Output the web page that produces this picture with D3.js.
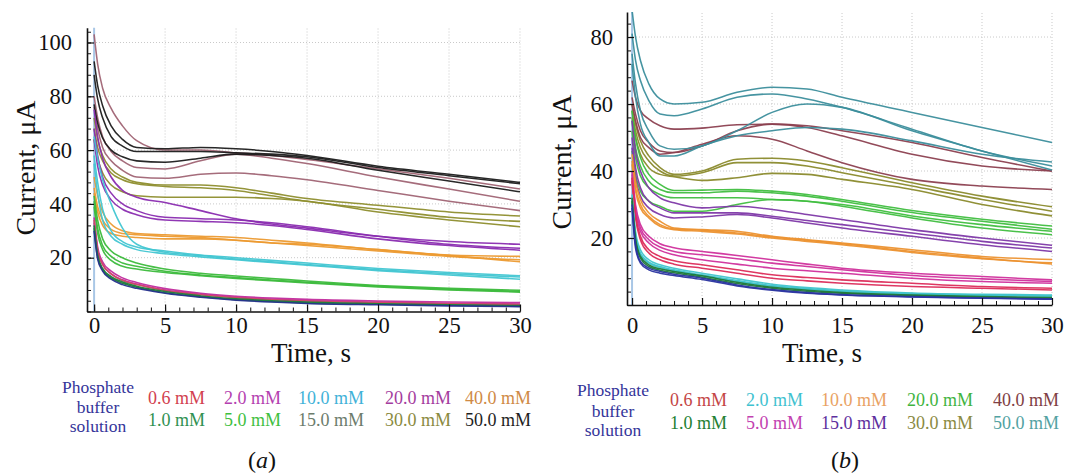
<!DOCTYPE html>
<html>
<head>
<meta charset="utf-8">
<script src="https://cdn.jsdelivr.net/npm/d3@7"></script>
<style>
  html, body { margin: 0; padding: 0; background: #fff; }
  svg { display: block; }
  svg text { font-family: "Liberation Serif", "Times New Roman", serif; }
</style>
</head>
<body>
<svg id="chart" width="1070" height="474"></svg>
<script>
// ---------- shared sample times (s) ----------
const times = [0, 0.25, 0.6, 1.2, 2, 3, 5, 7.5, 10, 12.5, 15, 20, 25, 30];

// ---------- panel (a) curves, µA ----------
const aMauve = [
  [103, 92, 83, 75.5, 69, 63.5, 60, 60, 59, 58, 56.5, 53, 49.5, 45.5],
  [80, 72, 65, 59.5, 56, 53.5, 53, 56, 58.5, 57, 55, 50, 45.5, 41],
  [76, 68, 61, 56, 52.5, 50, 49.5, 51, 51.5, 50.5, 49, 45, 41, 37.5]
];
const aBlack = [
  [93, 84, 76.5, 69, 64, 61, 60.5, 61, 60.5, 59.5, 58, 54, 51, 48],
  [88, 79, 72, 65, 61.5, 59.5, 59.5, 59.5, 59, 58.5, 57.5, 53.5, 50.5, 47.5],
  [77, 70, 64.5, 60, 57.5, 56, 55.5, 57, 58.5, 58, 57, 52.5, 48.5, 44.5]
];
const aOlive = [
  [72, 64, 58, 53, 50, 48, 47, 47, 46, 44, 42, 39.5, 37, 35.5],
  [68, 61, 56, 51.5, 49, 47.5, 46.5, 46, 45, 43, 41, 38, 35, 33.5],
  [64, 57, 51.5, 47, 44.5, 43, 42.5, 42.5, 42.5, 42, 41, 37, 34, 31.5]
];
const aPurple = [
  [75, 65, 57, 50, 45, 42.5, 40.5, 37.5, 34.5, 32.5, 31, 28, 26, 25],
  [68, 58, 50, 44, 40, 37.5, 35, 34.5, 34, 33, 31.5, 28, 25, 23.5],
  [64, 54, 47, 41.5, 38, 36, 34, 33.5, 33, 32, 30.5, 27, 24.5, 22.8]
];
const aOrange = [
  [50, 43, 37, 32.5, 30, 29, 28.5, 28, 27.5, 26.5, 25.5, 23, 21, 20.5],
  [46, 39, 34, 30.5, 29, 28.5, 28, 27.5, 26.5, 25.5, 24.5, 22.5, 20.5, 19.2],
  [44, 37, 32, 29, 28, 27.5, 27, 27, 26.5, 25.5, 25, 23, 20.8, 18.5]
];
const aCyan = [
  [65, 57, 49, 40, 31, 25, 22, 20.8, 19.5, 18.5, 17.5, 15.5, 14, 12.8],
  [58, 48, 38, 30, 26, 24, 22.5, 21, 20, 19, 18, 16, 14.5, 13.3],
  [55, 44, 34, 28, 25, 23, 21.5, 20.3, 19.2, 18.2, 17.2, 15.2, 13.6, 12]
];
const aGreen = [
  [43, 34, 27, 22.5, 20, 18, 15.8, 14.2, 13.2, 12.3, 11.3, 9.7, 8.6, 7.9],
  [41, 31, 24.5, 20.5, 18, 16.8, 15, 13.6, 12.6, 11.7, 10.9, 9.4, 8.3, 7.5],
  [39, 29, 23, 19, 16.8, 15.8, 14.5, 13.3, 12.3, 11.4, 10.6, 9.1, 8, 7.2]
];
const aMagenta = [
  [35, 24, 18.5, 15, 12.5, 10.8, 8.5, 6.8, 5.7, 5, 4.5, 3.9, 3.5, 3.3],
  [33, 22.5, 17.5, 14, 11.8, 10.2, 8, 6.4, 5.3, 4.6, 4.1, 3.5, 3.1, 2.8]
];
const aRed = [
  [34, 23, 17.5, 14, 11.5, 10, 7.8, 6.2, 5.1, 4.4, 3.9, 3.3, 2.9, 2.6]
];
const aDarkGreen = [
  [32, 21, 16, 13, 11, 9.4, 7.4, 5.8, 4.7, 4, 3.5, 2.9, 2.5, 2.2],
  [31, 20, 15.5, 12.5, 10.5, 9, 7, 5.5, 4.4, 3.7, 3.2, 2.7, 2.3, 2]
];
const aBlue = [
  [30, 19.5, 15, 12, 10, 8.6, 6.8, 5.3, 4.2, 3.5, 3, 2.5, 2.1, 1.8]
];

// ---------- panel (b) curves, µA ----------
const bTeal = [
  [88, 80, 73, 66, 61.5, 60, 60.5, 63.5, 65, 64.5, 62, 57.5, 53, 48.5],
  [81, 73, 67, 61, 57, 56.5, 58.5, 62, 63, 61.5, 59, 52.5, 46, 41.5],
  [75, 66, 58, 52, 47.5, 46.5, 47.5, 52, 57.5, 60, 59, 52, 46, 40.3],
  [72, 62, 54, 48.5, 44.5, 44.5, 47.5, 50.5, 52, 53, 52.5, 49, 45, 42.7]
];
const bBrown = [
  [67, 62, 58, 55.5, 53.5, 52.5, 52.8, 53.8, 54, 53.5, 52, 48.5, 44, 40],
  [62, 57, 52, 48.5, 46, 45.5, 47.5, 52, 54, 53, 50.5, 45, 41.5, 40],
  [60, 55, 50, 47, 45, 45.5, 48, 50.5, 49.5, 46, 42.5, 37.5, 35.5, 34.5]
];
const bOlive = [
  [60, 54, 49, 44.5, 41, 39, 40, 43.5, 43.8, 43, 41, 36.5, 32.5, 29.3],
  [58, 52, 47, 43, 40, 38.5, 39.5, 42.5, 42.5, 41.5, 39.5, 35.5, 31.5, 28],
  [56, 50, 45, 41, 39, 38.3, 37.2, 38, 39.3, 39, 37.5, 34.5, 30, 26.6]
];
const bGreen = [
  [58, 50, 44, 39, 36, 34.2, 34.3, 34.5, 34, 33, 31.5, 28.2, 25.6, 23.6],
  [55, 47, 41.5, 37, 34.5, 33.5, 33.5, 34, 33.5, 32.5, 31, 27.6, 25, 22.6],
  [52, 44, 38.5, 35, 33, 32, 32, 32, 31.5, 31, 30, 26.6, 24, 22],
  [46, 39, 34, 31, 29.5, 28, 28, 30, 31.5, 31, 29.5, 26, 23, 21]
];
const bPurple = [
  [55, 46, 40, 35, 32, 30.5, 29, 29.5, 28.5, 27, 25.5, 22.5, 20, 17.8],
  [50, 41, 35, 31, 29, 27.5, 27.5, 27.5, 26.5, 25.2, 24, 21.5, 19, 17],
  [47, 38, 32.5, 29, 27, 26, 26.3, 27, 26, 24.5, 23, 20.5, 18, 16]
];
const bOrange = [
  [45, 37, 31.5, 27.5, 25, 23, 22.5, 22, 20.5, 19.5, 18.5, 16.5, 14.5, 13.6],
  [43, 35, 30, 26.5, 24, 22.7, 22.3, 21.5, 20.3, 19.3, 18.3, 16, 14, 12.2],
  [42, 34, 29, 26, 23.5, 22.5, 22, 21.2, 20, 19, 18, 15.7, 13.8, 12.6]
];
const bMagenta = [
  [40, 30, 24, 20.5, 18.3, 17.1, 16, 14.8, 13.5, 12.2, 11, 9.5, 8.5, 7.5],
  [39, 29, 23, 19.5, 17.3, 16, 15, 13.8, 12.5, 11.5, 10.5, 8.8, 7.8, 7],
  [38, 28, 22, 18.5, 16.3, 15, 13.5, 12.2, 11, 10.2, 9.5, 8, 7, 6.5]
];
const bRed = [
  [38, 27, 20.5, 16.5, 14.5, 13.2, 12, 10.5, 9, 8.2, 7.5, 6.5, 5.5, 5],
  [37, 26, 19.5, 15.5, 13.5, 12.2, 11, 9.5, 8, 7.2, 6.5, 5.5, 5, 4.5]
];
const bCyan = [
  [33, 22, 16.5, 13.5, 12, 11, 9.5, 7.8, 6.2, 5.2, 4.5, 3.6, 3.2, 3],
  [32, 21, 15.5, 12.8, 11.5, 10.5, 9, 7.3, 5.8, 4.9, 4.2, 3.4, 3, 2.8],
  [31, 20.5, 15, 12.5, 11.2, 10.2, 8.7, 7, 5.6, 4.7, 4, 3.3, 2.9, 2.6]
];
const bDarkGreen = [
  [32, 20, 14.5, 12, 10.8, 10, 8.7, 6.8, 5.3, 4.4, 3.7, 3, 2.5, 2.2],
  [31, 19, 14, 11.5, 10.4, 9.6, 8.3, 6.4, 5, 4.1, 3.5, 2.8, 2.3, 2]
];
const bBlue = [
  [30, 18, 13, 11, 10, 9.2, 8, 6, 4.6, 3.7, 3.1, 2.5, 2.1, 1.8],
  [29, 17, 12.5, 10.5, 9.5, 8.8, 7.6, 5.7, 4.4, 3.5, 3, 2.4, 2, 1.7]
];

// ---------- ticks & legend texts ----------
const xTicks = [0, 5, 10, 15, 20, 25, 30];
const aYTicks = [20, 40, 60, 80, 100];
const bYTicks = [20, 40, 60, 80];
const bufferLines = ["Phosphate", "buffer", "solution"];
const aLegendRow1 = ["0.6 mM", "2.0 mM", "10.0 mM", "20.0 mM", "40.0 mM"];
const aLegendRow2 = ["1.0 mM", "5.0 mM", "15.0 mM", "30.0 mM", "50.0 mM"];
const bLegendRow1 = ["0.6 mM", "2.0 mM", "10.0 mM", "20.0 mM", "40.0 mM"];
const bLegendRow2 = ["1.0 mM", "5.0 mM", "15.0 mM", "30.0 mM", "50.0 mM"];

// ---------- styling ----------
const aLegendColors1 = ["#d2414f", "#b43fb0", "#3fb2d8", "#a43c9e", "#cf8a45"];
const aLegendColors2 = ["#2f9151", "#3fbf3f", "#6c7c6c", "#8a8a3e", "#1e1e1e"];
const bLegendColors1 = ["#c44646", "#3fc2d0", "#e9a264", "#3fb43f", "#804044"];
const bLegendColors2 = ["#238032", "#c241b0", "#5e2f9e", "#8a8a42", "#52a2a2"];

const aGroups = [
  [aOlive, "#8e8e2e"], [aMauve, "#a06474"], [aBlack, "#1c1c1c"], [aPurple, "#8a2cb0"],
  [aOrange, "#ec9a30"], [aCyan, "#42c6d2"], [aGreen, "#3cba3c"], [aMagenta, "#c22c9e"],
  [aRed, "#d04a64"], [aDarkGreen, "#1e7a3a"], [aBlue, "#26308e"]
];
const bGroups = [
  [bOlive, "#8a8a2c"], [bBrown, "#8c4050"], [bTeal, "#3c8e9c"], [bGreen, "#40be40"],
  [bPurple, "#7e38a8"], [bOrange, "#ec9230"], [bMagenta, "#d0309c"], [bRed, "#dc2c5a"],
  [bCyan, "#40c4cc"], [bDarkGreen, "#1e7838"], [bBlue, "#2a34a0"]
];

const svg = d3.select("#chart");
const SERIF = "Liberation Serif";

function drawPanel(cfg) {
  const g = svg.append("g");
  const x = d3.scaleLinear().domain(cfg.xDomain).range(cfg.xRange);
  const y = d3.scaleLinear().domain(cfg.yDomain).range(cfg.yRange);
  const [x0, x1] = cfg.xRange;
  const [yb, yt] = cfg.yRange;

  // grid (dotted)
  g.append("g").selectAll("line").data(xTicks.filter(d => d > 0)).join("line")
    .attr("x1", d => x(d)).attr("x2", d => x(d)).attr("y1", yb).attr("y2", yt)
    .attr("stroke", "#c9c9c9").attr("stroke-width", 1).attr("stroke-dasharray", "1,2");
  g.append("g").selectAll("line").data(cfg.yTicks).join("line")
    .attr("x1", x0).attr("x2", x1).attr("y1", d => y(d)).attr("y2", d => y(d))
    .attr("stroke", "#c9c9c9").attr("stroke-width", 1).attr("stroke-dasharray", "1,2");
  // pale blue zero line
  g.append("line").attr("x1", x(0)).attr("x2", x(0)).attr("y1", yb).attr("y2", yt)
    .attr("stroke", "#a9c7e6").attr("stroke-width", 2);

  // clip
  const clipId = "clip" + cfg.id;
  svg.append("defs").append("clipPath").attr("id", clipId)
    .append("rect").attr("x", x0).attr("y", yt).attr("width", x1 - x0 + 2).attr("height", yb - yt);

  const line = d3.line().x((d, i) => x(times[i])).y(d => y(d)).curve(d3.curveMonotoneX);
  const curves = g.append("g").attr("clip-path", `url(#${clipId})`);
  cfg.groups.forEach(([arr, color]) => {
    curves.append("g").selectAll("path").data(arr).join("path")
      .attr("d", line).attr("fill", "none").attr("stroke", color)
      .attr("stroke-width", 1.55).attr("stroke-opacity", 0.95);
  });

  // axes (ticks inward)
  const minorX = d3.range(0, 31, 1);
  const minorY = d3.range(0, cfg.yDomain[1], 4);
  g.append("g").attr("transform", `translate(0,${yb})`)
    .call(d3.axisBottom(x).tickValues(minorX).tickSize(-4).tickSizeOuter(0).tickFormat(""))
    .call(s => s.select(".domain").remove());
  g.append("g").attr("transform", `translate(${x0},0)`)
    .call(d3.axisLeft(y).tickValues(minorY).tickSize(-4).tickSizeOuter(0).tickFormat(""))
    .call(s => s.select(".domain").remove());
  const xAxis = g.append("g").attr("transform", `translate(0,${yb})`)
    .call(d3.axisBottom(x).tickValues(xTicks).tickSize(-7).tickSizeOuter(0).tickPadding(cfg.xPad));
  const yAxis = g.append("g").attr("transform", `translate(${x0},0)`)
    .call(d3.axisLeft(y).tickValues(cfg.yTicks).tickSize(-7).tickSizeOuter(0).tickPadding(cfg.yPad));
  [xAxis, yAxis].forEach(a => {
    a.attr("font-family", SERIF);
    a.selectAll("text").style("font-family", SERIF).attr("font-size", 22.5).attr("fill", "#111");
    a.selectAll("line").attr("stroke", "#111").attr("stroke-width", 1.2);
    a.select(".domain").attr("stroke", "#111").attr("stroke-width", 1.6);
  });
  g.selectAll(".tick line").attr("stroke", "#111");

  // axis titles
  g.append("text").attr("transform", `translate(${cfg.yTitle[0]},${cfg.yTitle[1]}) rotate(-90)`)
    .attr("text-anchor", "middle").attr("dy", "0.35em").attr("font-size", 28).attr("fill", "#111")
    .text("Current, μA");
  g.append("text").attr("x", cfg.xTitle[0]).attr("y", cfg.xTitle[1])
    .attr("text-anchor", "middle").attr("font-size", 27).attr("fill", "#111").text("Time, s");

  // legend
  const buf = g.append("text").attr("text-anchor", "middle").attr("font-size", 17.5).attr("fill", "#35359a");
  bufferLines.forEach((t, i) => buf.append("tspan").attr("x", cfg.bufX).attr("y", cfg.bufY[i]).text(t));
  [[cfg.row1, cfg.col1], [cfg.row2, cfg.col2]].forEach(([labels, colors], r) => {
    g.append("g").selectAll("text").data(labels).join("text")
      .attr("x", (d, i) => cfg.legX[i]).attr("y", cfg.legY[r])
      .attr("font-size", 18).attr("fill", (d, i) => colors[i]).text(d => d);
  });
  const cap = g.append("text").attr("x", cfg.capX).attr("y", cfg.capY)
    .attr("text-anchor", "middle").attr("font-size", 24).attr("fill", "#111");
  cap.append("tspan").text("(");
  cap.append("tspan").attr("font-style", "italic").text(cfg.cap);
  cap.append("tspan").text(")");
}

drawPanel({
  id: "a", groups: aGroups, yTicks: aYTicks,
  xDomain: [-0.5, 30], xRange: [87, 520],
  yDomain: [0, 105.5], yRange: [311.5, 27.7],
  xPad: 6, yPad: 15,
  yTitle: [25, 168], xTitle: [311, 362],
  bufX: 98, bufY: [393, 413, 432],
  legX: [148, 224, 298, 385, 465], legY: [404, 426],
  row1: aLegendRow1, row2: aLegendRow2, col1: aLegendColors1, col2: aLegendColors2,
  capX: 262, capY: 468, cap: "a"
});
drawPanel({
  id: "b", groups: bGroups, yTicks: bYTicks,
  xDomain: [-0.36, 30], xRange: [627, 1052],
  yDomain: [0, 87.5], yRange: [305, 11.9],
  xPad: 12, yPad: 14,
  yTitle: [561, 162], xTitle: [822, 362],
  bufX: 613, bufY: [396, 417, 436],
  legX: [670, 746, 821, 907, 993], legY: [406, 429],
  row1: bLegendRow1, row2: bLegendRow2, col1: bLegendColors1, col2: bLegendColors2,
  capX: 845, capY: 468, cap: "b"
});
</script>
</body>
</html>
